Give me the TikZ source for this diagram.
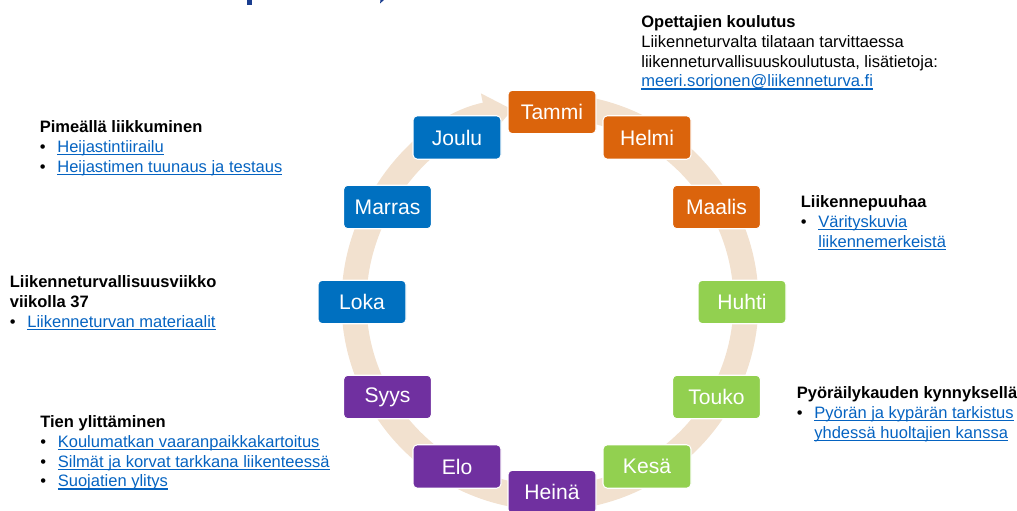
\documentclass[tikz,border=0pt]{standalone}
\usepackage{fontspec}
\setmainfont{Liberation Sans}
\usetikzlibrary{arrows.meta}
\definecolor{talvi}{HTML}{DB640C}
\definecolor{kevat}{HTML}{92D050}
\definecolor{kesa}{HTML}{7030A0}
\definecolor{syksy}{HTML}{0070C0}
\definecolor{rengas}{HTML}{F2E1CF}
\definecolor{linkki}{HTML}{0563C1}
\definecolor{otsikko}{HTML}{1A3E8F}
\tikzset{
  month/.style={draw=white, line width=0.6pt, rounded corners=2.5pt, minimum width=1.76cm, minimum height=0.87cm, inner sep=0pt, text=white, font=\fontsize{12}{14}\selectfont},
  ring/.style={draw=rengas, line width=0.5cm, -{Triangle[length=0.56cm, width=0.84cm]}},
  info/.style={anchor=north west, align=left, inner sep=0pt, font=\fontsize{9.4}{11.3}\selectfont},
}
\newcommand{\lnk}[1]{\textcolor{linkki}{\setbox0\hbox{#1}\rlap{\rule[-1.6pt]{\wd0}{0.7pt}}\box0}}
\newcommand{\itm}[1]{\makebox[0.35cm][l]{\textbullet}\lnk{#1}}
\newcommand{\cnt}[1]{\hspace*{0.35cm}\lnk{#1}}

\begin{document}
\begin{tikzpicture}
  \useasboundingbox (0,0) rectangle (20.34,10.22);
  % cut-off title
  \fill[otsikko] (4.94,10.22) rectangle (5.04,10.12);
  \fill[otsikko] (7.61,10.22) -- (7.68,10.22) -- (7.6,10.15) -- cycle;

  % year ring
  \coordinate (mid) at (11.0,4.18);
  \draw[ring] (mid) ++(80:3.92) arc[start angle=80, end angle=-259, radius=3.92];

  \node[month, fill=talvi] (tammi) at (11.04,7.98) {Tammi};
  \node[month, fill=talvi] (helmi) at (12.94,7.47) {Helmi};
  \node[month, fill=talvi] (maalis) at (14.33,6.08) {Maalis};
  \node[month, fill=kevat] (huhti) at (14.84,4.18) {Huhti};
  \node[month, fill=kevat] (touko) at (14.33,2.28) {Touko};
  \node[month, fill=kevat] (kesakuu) at (12.94,0.89) {Kesä};
  \node[month, fill=kesa] (heina) at (11.04,0.38) {Heinä};
  \node[month, fill=kesa] (elo) at (9.14,0.89) {Elo};
  \node[month, fill=kesa] (syys) at (7.75,2.28) {Syys};
  \node[month, fill=syksy] (loka) at (7.24,4.18) {Loka};
  \node[month, fill=syksy] (marras) at (7.75,6.08) {Marras};
  \node[month, fill=syksy] (joulu) at (9.14,7.47) {Joulu};

  % activities
  \node[info] (koulutus) at (12.82,9.92) {\textbf{Opettajien koulutus}\\
    Liikenneturvalta tilataan tarvittaessa\\
    liikenneturvallisuuskoulutusta, lisätietoja:\\
    \lnk{meeri.sorjonen@liikenneturva.fi}};
  \node[info] (pimea) at (0.79,7.81) {\textbf{Pimeällä liikkuminen}\\
    \itm{Heijastintiirailu}\\
    \itm{Heijastimen tuunaus ja testaus}};
  \node[info] (viikko) at (0.19,4.72) {\textbf{Liikenneturvallisuusviikko}\\
    \textbf{viikolla 37}\\
    \itm{Liikenneturvan materiaalit}};
  \node[info] (tie) at (0.80,1.92) {\textbf{Tien ylittäminen}\\
    \itm{Koulumatkan vaaranpaikkakartoitus}\\
    \itm{Silmät ja korvat tarkkana liikenteessä}\\
    \itm{Suojatien ylitys}};
  \node[info] (puuhaa) at (16.01,6.32) {\textbf{Liikennepuuhaa}\\
    \itm{Värityskuvia}\\
    \cnt{liikennemerkeistä}};
  \node[info] (pyora) at (15.93,2.49) {\textbf{Pyöräilykauden kynnyksellä}\\
    \itm{Pyörän ja kypärän tarkistus}\\
    \cnt{yhdessä huoltajien kanssa}};
\end{tikzpicture}
\end{document}
